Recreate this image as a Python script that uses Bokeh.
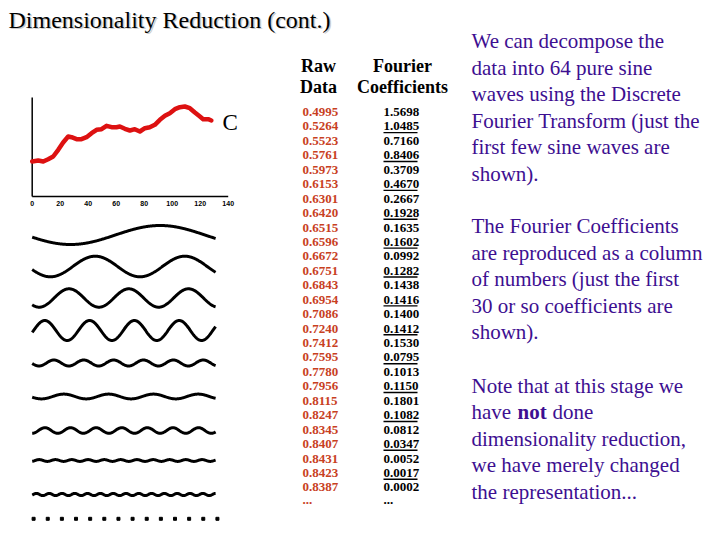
import numpy as np
from bokeh.plotting import figure
from bokeh.models import Range1d
from bokeh.core.properties import value
from bokeh.embed import file_html
from bokeh.resources import INLINE

# ---------------- data ----------------
title = "Dimensionality Reduction (cont.)"

# time series C (x index, value)
curve_x = [0, 4.3, 7.9, 11.4, 15, 18.6, 22.1, 25.7, 28.1, 31.7, 35.2, 38.8, 42.4, 46,
           49.5, 53.1, 56.7, 60.2, 62.6, 66.2, 69.8, 73.3, 76.9, 80.5, 84, 87.6, 91.2,
           94.8, 98.3, 101.9, 105.5, 109, 112.6, 116.2, 119.8, 122.1, 125.7, 128]
curve_v = [0.35, 0.36, 0.35, 0.373, 0.40, 0.467, 0.54, 0.60, 0.593, 0.573, 0.573, 0.593,
           0.633, 0.667, 0.673, 0.707, 0.693, 0.693, 0.70, 0.677, 0.66, 0.673, 0.65,
           0.683, 0.693, 0.717, 0.767, 0.807, 0.833, 0.873, 0.893, 0.90, 0.883, 0.84,
           0.80, 0.773, 0.773, 0.76]
mini_ticks = [0, 20, 40, 60, 80, 100, 120, 140]

# sine wave components: frequency (cycles per 128 samples), amplitude (px), peak position
wave_freq = [1, 2, 3, 4, 6, 4, 7, 11, 14]
wave_amp = [9.5, 10.3, 9.2, 10.0, 3.0, 2.4, 2.8, 0.9, 1.1]
wave_peak = [91.4, 45.0, 69.0, 73.0, 15.5, 22.6, 27.4, 5.0, 3.0]
dot_x = [1, 11.1, 21.2, 31.3, 41.4, 51.5, 61.6, 71.7, 81.8, 91.9, 102, 112.1, 122.2, 132.3]

raw_data = ["0.4995", "0.5264", "0.5523", "0.5761", "0.5973", "0.6153", "0.6301", "0.6420",
            "0.6515", "0.6596", "0.6672", "0.6751", "0.6843", "0.6954", "0.7086", "0.7240",
            "0.7412", "0.7595", "0.7780", "0.7956", "0.8115", "0.8247", "0.8345", "0.8407",
            "0.8431", "0.8423", "0.8387"]
fourier = ["1.5698", "1.0485", "0.7160", "0.8406", "0.3709", "0.4670", "0.2667", "0.1928",
           "0.1635", "0.1602", "0.0992", "0.1282", "0.1438", "0.1416", "0.1400", "0.1412",
           "0.1530", "0.0795", "0.1013", "0.1150", "0.1801", "0.1082", "0.0812", "0.0347",
           "0.0052", "0.0017", "0.0002"]

para1 = ["We can decompose the", "data into 64 pure sine", "waves using the Discrete",
         "Fourier Transform (just the", "first few sine waves are", "shown)."]
para2 = ["The Fourier Coefficients", "are reproduced as a column", "of numbers (just the first",
         "30 or so coefficients are", "shown)."]
para3 = ["Note that at this stage we", None, "dimensionality reduction,",
         "we have merely changed", "the representation..."]

# ---------------- layout ----------------
W, H = 704, 524
SERIF = value("Liberation Serif")
SANS = value("Liberation Sans")
PURPLE = "#3d0f91"
RED = "#c8401e"

p = figure(width=W, height=H, output_backend="svg", toolbar_location=None,
           x_range=Range1d(0, W), y_range=Range1d(H, 0),
           x_axis_type=None, y_axis_type=None, min_border=0,
           outline_line_color=None, background_fill_color="white",
           border_fill_color="white")
p.grid.visible = False

# mini chart scales
MX0, MSX = 31.7, 1.4      # px of x=0, px per unit
MY0, MSY = 196.0, 100.0   # px of v=0, px per value unit
p.extra_x_ranges = {"mini": Range1d((0 - MX0) / MSX, (W - MX0) / MSX)}
p.extra_y_ranges = {"miniy": Range1d((MY0 - H) / MSY, MY0 / MSY)}

# title (with faint shadow)
p.text([9.5], [20.5], text=[title], text_font=SERIF, text_font_size="24px",
       text_color="#cccccc", text_baseline="middle")
p.text([8], [19], text=[title], text_font=SERIF, text_font_size="24px",
       text_color="black", text_baseline="middle")

# mini chart axes
p.segment([0, 0], [0, 0], [0, 140], [0.99, 0], x_range_name="mini", y_range_name="miniy",
          line_color="black", line_width=1.5)
p.text(mini_ticks, [203] * len(mini_ticks), text=[str(t) for t in mini_ticks],
       x_range_name="mini", text_font=SANS, text_font_size="7px", text_font_style="bold",
       text_align="center", text_baseline="middle", text_color="black")
p.line(curve_x, curve_v, x_range_name="mini", y_range_name="miniy",
       line_color="#dd1111", line_width=4.5, line_join="round", line_cap="round")
p.text([222], [122], text=["C"], text_font=SERIF, text_font_size="23px",
       text_color="black", text_baseline="middle")

# sine waves
row_centers = [234.5, 266, 297.5, 330, 362.5, 396, 430, 460, 494]
u = np.linspace(0, 131, 500)
for f, a, pk, c in zip(wave_freq, wave_amp, wave_peak, row_centers):
    y = c - a * np.cos(2 * np.pi * f * (u - pk) / 128.0)
    p.line(u, y, x_range_name="mini", line_color="black", line_width=3)
p.scatter(dot_x, [518.3] * len(dot_x), x_range_name="mini", marker="square",
          size=3, color="black")

# table headers
for txt, x, y in [("Raw", 318, 65.5), ("Data", 318, 86.5),
                  ("Fourier", 402, 65.5), ("Coefficients", 402, 86.5)]:
    p.text([x], [y], text=[txt], text_font=SERIF, text_font_size="18px",
           text_font_style="bold", text_align="center", text_baseline="middle",
           text_color="black")

# columns
C0, STEP = 111.5, 14.44
ys = [C0 + STEP * i for i in range(len(raw_data))]
p.text([302] * len(raw_data), ys, text=raw_data, text_font=SERIF, text_font_size="13px",
       text_font_style="bold", text_color=RED, text_baseline="middle")
p.text([383] * len(fourier), ys, text=fourier, text_font=SERIF, text_font_size="13px",
       text_font_style="bold", text_color="black", text_baseline="middle")
uy = [ys[i] + 6.2 for i in range(len(fourier)) if i % 2 == 1]
p.segment([383] * len(uy), uy, [417] * len(uy), uy, line_color="black", line_width=1.4)
p.text([302, 383], [499, 499], text=["...", "..."], text_font=SERIF, text_font_size="13px",
       text_font_style="bold", text_color=[RED, "black"], text_baseline="middle")

# right-hand paragraphs
LX, LS, FS = 471, 26.6, "21px"
def para(lines, y0):
    for i, line in enumerate(lines):
        if line is None:
            continue
        p.text([LX], [y0 + LS * i], text=[line], text_font=SERIF, text_font_size=FS,
               text_color=PURPLE, text_baseline="middle")

para(para1, 40.5)
para(para2, 225.5)
para(para3, 385)
yb = 385 + LS
p.text([LX], [yb], text=["have"], text_font=SERIF, text_font_size=FS,
       text_color=PURPLE, text_baseline="middle")
p.text([517], [yb], text=["not"], text_font=SERIF, text_font_size=FS,
       text_font_style="bold", text_color=PURPLE, text_baseline="middle")
p.text([552], [yb], text=["done"], text_font=SERIF, text_font_size=FS,
       text_color=PURPLE, text_baseline="middle")

open("out.html", "w").write(file_html(p, INLINE))
